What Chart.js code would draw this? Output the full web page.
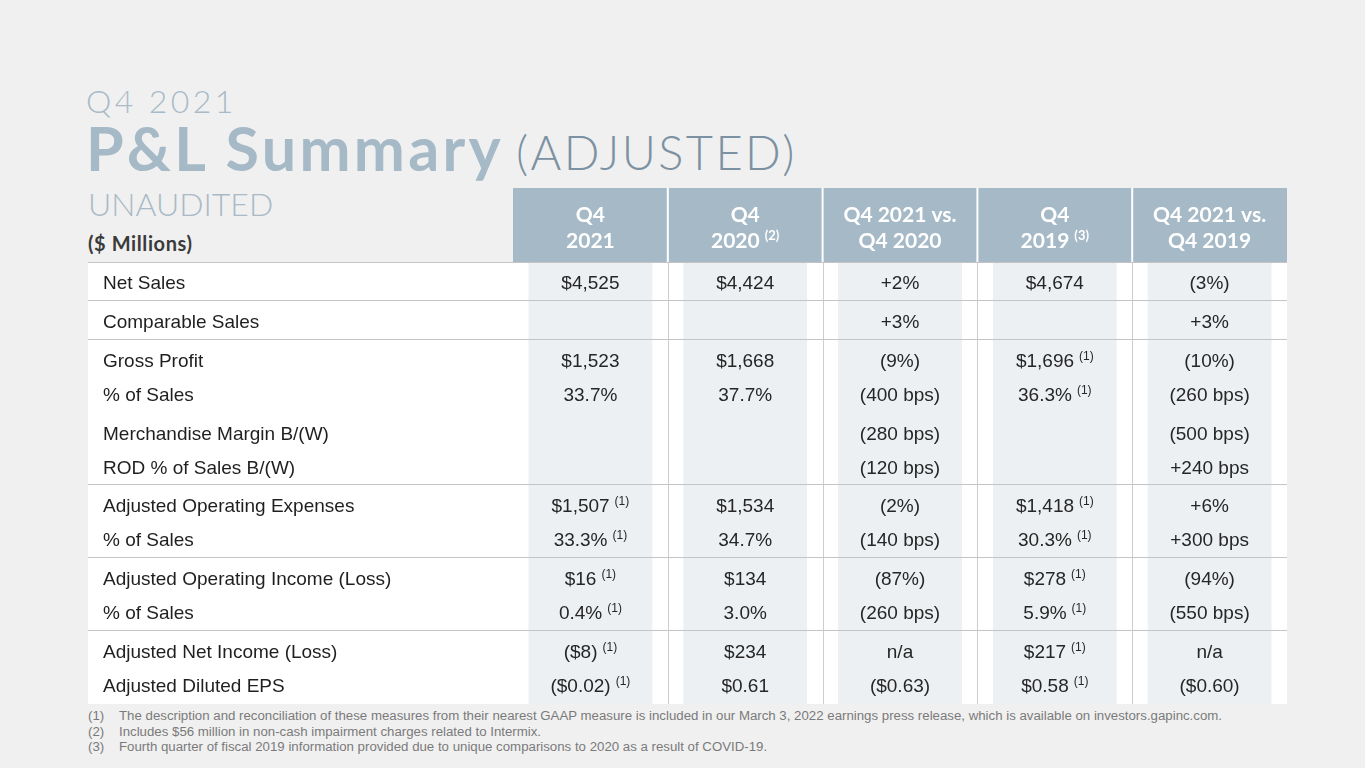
<!DOCTYPE html>
<html>
<head>
<meta charset="utf-8">
<script src="https://cdn.jsdelivr.net/npm/chart.js@4.4.1/dist/chart.umd.min.js"></script>
<style>
html,body{margin:0;padding:0;background:#f0f0f0;width:1365px;height:768px;overflow:hidden;}
.abs{position:absolute;white-space:nowrap;line-height:1;}
#q4{left:86px;top:85px;font-family:Lato,sans-serif;font-weight:300;font-size:32px;letter-spacing:3.4px;color:#a9bac6;}
#pl{left:86px;top:117px;font-family:Lato,sans-serif;font-weight:700;font-size:61px;letter-spacing:3.3px;color:#a6b9c6;}
#adj{left:516px;top:129px;font-family:Lato,sans-serif;font-weight:300;font-size:47px;letter-spacing:2.4px;color:#7c92a3;}
#unaud{left:88px;top:188px;font-family:Lato,sans-serif;font-weight:300;font-size:32px;color:#a9bac6;}
#mill{left:88px;top:233px;font-family:Lato,sans-serif;font-weight:700;font-size:20px;letter-spacing:0.6px;color:#3a3a3a;}
#notes{left:88px;top:708px;font-family:'Liberation Sans',Arial,sans-serif;font-size:13.25px;color:#7a7a7a;}
#notes div{height:15.5px;line-height:15.5px;}
#notes span{display:inline-block;width:31px;}
#c{position:absolute;left:0;top:0;}
</style>
</head>
<body>
<div id="q4" class="abs">Q4 2021</div>
<div id="pl" class="abs">P&amp;L Summary</div>
<div id="adj" class="abs">(ADJUSTED)</div>
<div id="unaud" class="abs">UNAUDITED</div>
<div id="mill" class="abs">($ Millions)</div>
<div id="notes" class="abs">
<div><span>(1)</span>The description and reconciliation of these measures from their nearest GAAP measure is included in our March 3, 2022 earnings press release, which is available on investors.gapinc.com.</div>
<div><span>(2)</span>Includes $56 million in non-cash impairment charges related to Intermix.</div>
<div><span>(3)</span>Fourth quarter of fiscal 2019 information provided due to unique comparisons to 2020 as a result of COVID-19.</div>
</div>
<canvas id="c" width="1365" height="768"></canvas>
<script>
// ---- data ----
const rowLabels = ['Net Sales','Comparable Sales','Gross Profit','% of Sales','Merchandise Margin B/(W)','ROD % of Sales B/(W)','Adjusted Operating Expenses','% of Sales','Adjusted Operating Income (Loss)','% of Sales','Adjusted Net Income (Loss)','Adjusted Diluted EPS'];
const groupStarts = [0, 1, 2, 6, 8, 10];      // rows that start a ruled group
const spacingBreaks = [1, 2, 4, 6, 8, 10];    // rows preceded by extra spacing

const columnKeys = ['Q4 2021','Q4 2020','Q4 2021 vs. Q4 2020','Q4 2019','Q4 2021 vs. Q4 2019'];
const headerLine1 = ['Q4','Q4','Q4 2021 vs.','Q4','Q4 2021 vs.'];
const headerLine2 = ['2021','2020','Q4 2020','2019','Q4 2019'];
const headerNotes = ['','(2)','','(3)',''];

const q42021 = ['$4,525','','$1,523','33.7%','','','$1,507','33.3%','$16','0.4%','($8)','($0.02)'];
const q42021Notes = ['','','','','','','(1)','(1)','(1)','(1)','(1)','(1)'];
const q42020 = ['$4,424','','$1,668','37.7%','','','$1,534','34.7%','$134','3.0%','$234','$0.61'];
const q42020Notes = ['','','','','','','','','','','',''];
const vs2020 = ['+2%','+3%','(9%)','(400 bps)','(280 bps)','(120 bps)','(2%)','(140 bps)','(87%)','(260 bps)','n/a','($0.63)'];
const vs2020Notes = ['','','','','','','','','','','',''];
const q42019 = ['$4,674','','$1,696','36.3%','','','$1,418','30.3%','$278','5.9%','$217','$0.58'];
const q42019Notes = ['','','(1)','(1)','','','(1)','(1)','(1)','(1)','(1)','(1)'];
const vs2019 = ['(3%)','+3%','(10%)','(260 bps)','(500 bps)','+240 bps','+6%','+300 bps','(94%)','(550 bps)','n/a','($0.60)'];
const vs2019Notes = ['','','','','','','','','','','',''];

const columnValues = [q42021, q42020, vs2020, q42019, vs2019];
const columnNotes = [q42021Notes, q42020Notes, vs2020Notes, q42019Notes, vs2019Notes];
const columnShade = [1, 1, 1, 1, 1];

// ---- layout / styles ----
const HEADER_H = 74;
const LABEL_INSET = 15;
const FIRST_ROW = 0.65;   // in row-pitch units
const BREAK = 0.14;       // extra spacing at a break, in row-pitch units
const RULE_OFFSET = 0.6;
const ROWS_MAX = 13.0;
const bodyFont = "19px 'Liberation Sans', Arial, sans-serif";
const noteFont = "12px 'Liberation Sans', Arial, sans-serif";
const headFont = "bold 21px Lato, sans-serif";
const headNoteFont = "bold 13px Lato, sans-serif";

function rowValue(i) {
  const b = spacingBreaks.filter(r => r <= i).length;
  return FIRST_ROW + i + BREAK * b;
}

function drawWithNote(ctx, text, note, cx, cy, font, nfont, color, rise) {
  ctx.font = font;
  const w1 = ctx.measureText(text).width;
  let w2 = 0, gap = 0;
  if (note) { ctx.font = nfont; w2 = ctx.measureText(note).width; gap = 5; }
  const total = w1 + gap + w2;
  const x0 = cx - total / 2;
  ctx.fillStyle = color;
  ctx.textAlign = 'left';
  ctx.textBaseline = 'middle';
  ctx.font = font;
  ctx.fillText(text, x0, cy);
  if (note) {
    ctx.font = nfont;
    ctx.fillText(note, x0 + w1 + gap, cy - rise);
  }
}

const tablePlugin = {
  id: 'tablePlugin',
  beforeDraw(chart) {
    const {ctx, chartArea: ca, scales} = chart;
    const y = scales.rows;
    const tableLeft = y.left - LABEL_INSET;
    ctx.save();
    ctx.fillStyle = '#ffffff';
    ctx.fillRect(tableLeft, ca.top, ca.right - tableLeft, ca.bottom - ca.top);
    ctx.restore();
  },
  afterDatasetsDraw(chart) {
    const {ctx, chartArea: ca, scales} = chart;
    const x = scales.x, y = scales.rows;
    const colW = x.getPixelForValue(1) - x.getPixelForValue(0);
    const tableLeft = y.left - LABEL_INSET;
    ctx.save();
    // header
    const hTop = ca.top - HEADER_H;
    ctx.fillStyle = '#a6b9c6';
    ctx.fillRect(ca.left, hTop, ca.right - ca.left, HEADER_H);
    ctx.fillStyle = '#ffffff';
    for (let i = 1; i < columnKeys.length; i++) {
      const bx = x.getPixelForValue(i) - colW / 2;
      ctx.fillRect(bx - 1, hTop, 2, HEADER_H);
    }
    for (let i = 0; i < columnKeys.length; i++) {
      const cx = x.getPixelForValue(i);
      drawWithNote(ctx, headerLine1[i], '', cx, hTop + 27, headFont, headNoteFont, '#ffffff', 0);
      drawWithNote(ctx, headerLine2[i], headerNotes[i], cx, hTop + 53, headFont, headNoteFont, '#ffffff', 5);
    }
    // body vertical separators
    ctx.fillStyle = '#cdcdcd';
    for (let i = 1; i < columnKeys.length; i++) {
      const bx = Math.round(x.getPixelForValue(i) - colW / 2);
      ctx.fillRect(bx, ca.top, 1, ca.bottom - ca.top);
    }
    // group rules
    ctx.fillStyle = '#c4c4c4';
    groupStarts.forEach(r => {
      const v = r === 0 ? 0 : rowValue(r) - RULE_OFFSET - BREAK / 2;
      const ly = Math.round(y.getPixelForValue(v));
      ctx.fillRect(tableLeft, ly, ca.right - tableLeft, 1);
    });
    // values
    for (let c = 0; c < columnKeys.length; c++) {
      const cx = x.getPixelForValue(c);
      const vals = columnValues[c], notes = columnNotes[c];
      for (let r = 0; r < rowLabels.length; r++) {
        if (!vals[r]) continue;
        drawWithNote(ctx, vals[r], notes[r], cx, y.getPixelForValue(rowValue(r)), bodyFont, noteFont, '#262626', 5);
      }
    }
    ctx.restore();
  }
};

new Chart(document.getElementById('c'), {
  type: 'bar',
  data: {
    labels: columnKeys,
    datasets: [{
      data: columnShade,
      backgroundColor: '#edf0f3',
      borderWidth: 0,
      barPercentage: 0.8,
      categoryPercentage: 1,
      yAxisID: 'yBg',
      xAxisID: 'x'
    }]
  },
  options: {
    responsive: false,
    animation: false,
    events: [],
    layout: { padding: { left: 103, right: 78, top: 262, bottom: 64 } },
    plugins: { legend: { display: false }, tooltip: { enabled: false } },
    scales: {
      x: { type: 'category', display: false, offset: true },
      yBg: { type: 'linear', min: 0, max: 1, display: false },
      rows: {
        type: 'linear',
        position: 'left',
        reverse: true,
        min: 0,
        max: ROWS_MAX,
        grid: { display: false, drawTicks: false },
        border: { display: false },
        afterBuildTicks(scale) {
          scale.ticks = rowLabels.map((l, i) => ({ value: rowValue(i) }));
        },
        ticks: {
          autoSkip: false,
          crossAlign: 'far',
          padding: 0,
          color: '#1f1f1f',
          font: { family: "'Liberation Sans', Arial, sans-serif", size: 19 },
          callback: (v, i) => rowLabels[i]
        },
        afterFit(scale) { scale.width = 410; }
      }
    }
  },
  plugins: [tablePlugin]
});
</script>
</body>
</html>
